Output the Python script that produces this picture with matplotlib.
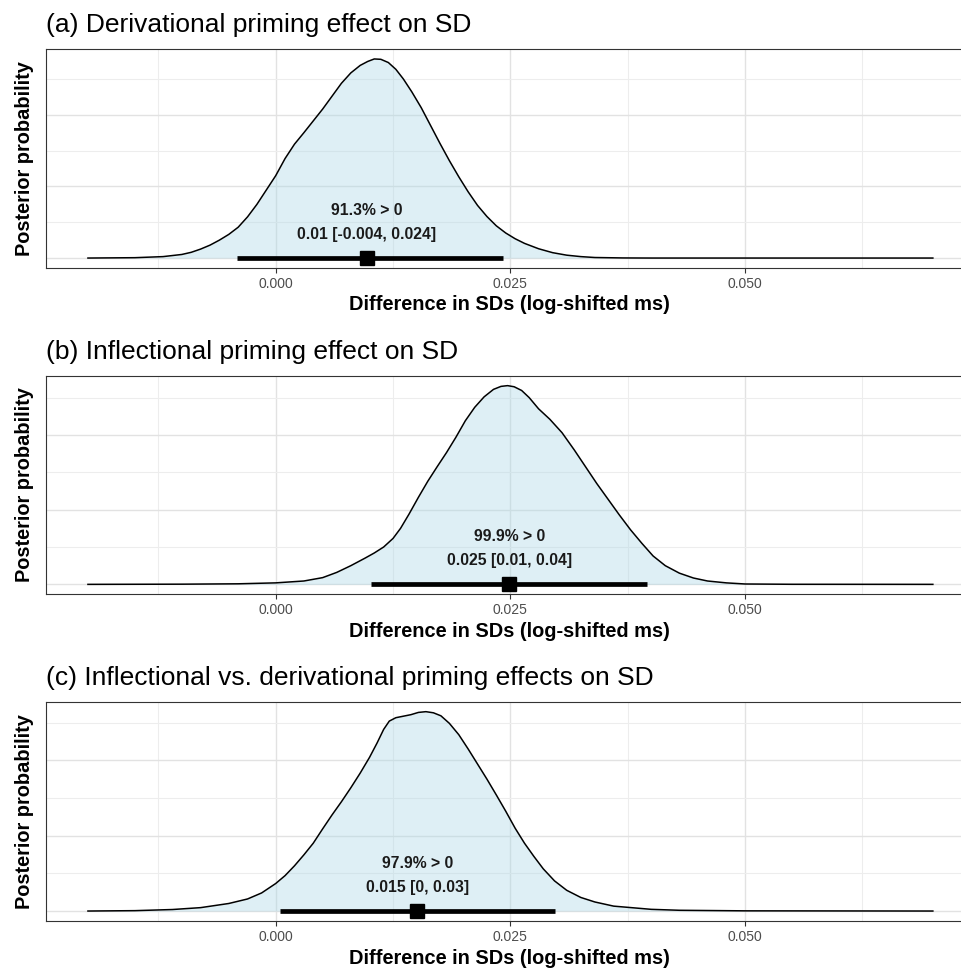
import matplotlib
matplotlib.use('Agg')
import matplotlib.pyplot as plt
from matplotlib.ticker import FixedLocator, NullFormatter

plt.rcParams['font.family'] = ['Liberation Sans', 'DejaVu Sans']

titles = ['(a) Derivational priming effect on SD',
          '(b) Inflectional priming effect on SD',
          '(c) Inflectional vs. derivational priming effects on SD']

# posterior density curves
x_a = [-0.0200, -0.0150, -0.0120, -0.0100, -0.0090, -0.0080, -0.0070, -0.0060,
       -0.0050, -0.0040, -0.0030, -0.0020, -0.0010, 0.0000, 0.0010, 0.0020,
       0.0030, 0.0040, 0.0050, 0.0060, 0.0070, 0.0080, 0.0090, 0.0098, 0.0105,
       0.0112, 0.0120, 0.0128, 0.0136, 0.0145, 0.0155, 0.0165, 0.0175, 0.0185,
       0.0195, 0.0205, 0.0215, 0.0225, 0.0235, 0.0245, 0.0255, 0.0265, 0.0280,
       0.0295, 0.0310, 0.0325, 0.0340, 0.0370, 0.0400, 0.0700]
dens_a = [0.0, 0.1, 0.4, 1.0, 1.6, 2.5, 3.6, 5.0,
          6.6, 8.6, 11.5, 15.0, 19.0, 23.0, 27.8, 31.8,
          35.0, 38.3, 41.6, 45.2, 48.8, 51.7, 53.8, 54.9, 55.6,
          55.5, 54.6, 52.7, 50.0, 46.4, 42.0, 37.0, 32.0, 27.2,
          22.7, 18.5, 14.7, 11.6, 9.0, 7.0, 5.4, 4.1, 2.6,
          1.5, 0.8, 0.4, 0.15, 0.03, 0.0, 0.0]

x_b = [-0.0200, -0.0100, -0.0040, 0.0000, 0.0030, 0.0050, 0.0065, 0.0080,
       0.0095, 0.0105, 0.0115, 0.0125, 0.0133, 0.0142, 0.0152, 0.0162, 0.0172,
       0.0182, 0.0192, 0.0202, 0.0212, 0.0222, 0.0232, 0.0240, 0.0247, 0.0254,
       0.0262, 0.0270, 0.0280, 0.0292, 0.0305, 0.0318, 0.0330, 0.0342, 0.0354,
       0.0366, 0.0378, 0.0390, 0.0402, 0.0415, 0.0430, 0.0445, 0.0460, 0.0480,
       0.0500, 0.0550, 0.0700]
dens_b = [0.0, 0.05, 0.15, 0.4, 0.9, 1.8, 3.2, 5.0,
          7.0, 8.4, 10.0, 12.3, 15.0, 18.8, 23.3, 27.6, 31.5,
          35.3, 39.4, 43.8, 47.4, 50.2, 52.2, 53.0, 53.2, 52.9,
          51.9, 50.0, 47.0, 44.2, 40.6, 36.0, 31.5, 27.0, 22.8,
          18.6, 14.6, 11.0, 7.6, 5.0, 3.0, 1.7, 0.9, 0.4,
          0.1, 0.02, 0.0]

x_c = [-0.0200, -0.0150, -0.0110, -0.0080, -0.0050, -0.0030, -0.0015, 0.0000,
       0.0010, 0.0020, 0.0030, 0.0040, 0.0050, 0.0060, 0.0070, 0.0080, 0.0090,
       0.0100, 0.0108, 0.0115, 0.0121, 0.0128, 0.0136, 0.0144, 0.0152, 0.0160,
       0.0168, 0.0176, 0.0185, 0.0195, 0.0205, 0.0215, 0.0225, 0.0235, 0.0245,
       0.0255, 0.0265, 0.0275, 0.0285, 0.0297, 0.0310, 0.0325, 0.0340, 0.0360,
       0.0400, 0.0430, 0.0500, 0.0700]
dens_c = [0.0, 0.1, 0.4, 0.9, 2.0, 3.2, 4.8, 7.3,
          9.4, 12.0, 14.9, 18.0, 21.8, 25.5, 29.0, 32.7, 36.6,
          40.8, 44.6, 48.2, 50.4, 51.3, 51.7, 52.1, 52.7, 52.9,
          52.6, 51.8, 49.8, 46.8, 43.0, 39.0, 35.0, 30.8, 26.5,
          22.0, 18.0, 14.5, 11.2, 8.0, 5.5, 3.6, 2.4, 1.3,
          0.45, 0.2, 0.05, 0.0]

medians = [0.0097, 0.0249, 0.0151]
lower = [-0.0041, 0.0101, 0.0005]
upper = [0.0242, 0.0396, 0.0298]
prob_labels = ['91.3% > 0', '99.9% > 0', '97.9% > 0']
ci_labels = ['0.01 [-0.004, 0.024]', '0.025 [0.01, 0.04]', '0.015 [0, 0.03]']

x_major = [0.0, 0.025, 0.05]
x_minor = [-0.0125, 0.0125, 0.0375, 0.0625]
x_tick_labels = ['0.000', '0.025', '0.050']
y_major = [0, 20, 40]
y_minor = [10, 30, 50]

W, H = 962, 971
fig = plt.figure(figsize=(W / 100, H / 100), dpi=100)

left_px, width_px = 45.7, 929.4
panels_px = [(49, 268), (375.7, 594.3), (701.7, 921)]
curves = [(x_a, dens_a), (x_b, dens_b), (x_c, dens_c)]

for i, ((top, bot), (xs, ds)) in enumerate(zip(panels_px, curves)):
    ax = fig.add_axes([left_px / W, 1 - bot / H, width_px / W, (bot - top) / H])
    peak = max(ds)
    ax.set_xlim(-0.0245, 0.0745)
    ax.set_ylim(-0.05 * peak, 1.05 * peak)

    ax.xaxis.set_major_locator(FixedLocator(x_major))
    ax.xaxis.set_minor_locator(FixedLocator(x_minor))
    ax.set_xticklabels(x_tick_labels)
    ax.yaxis.set_major_locator(FixedLocator(y_major))
    ax.yaxis.set_minor_locator(FixedLocator(y_minor))
    ax.yaxis.set_major_formatter(NullFormatter())
    ax.grid(which='major', color='#E2E2E2', lw=1.0, zorder=0)
    ax.grid(which='minor', color='#EDEDED', lw=0.8, zorder=0)
    ax.set_axisbelow(True)
    ax.tick_params(axis='x', which='major', length=3.5, width=0.8, color='#333333',
                   labelsize=10, labelcolor='#4D4D4D', pad=3)
    ax.tick_params(axis='x', which='minor', length=0)
    ax.tick_params(axis='y', which='both', length=0)
    for sp in ax.spines.values():
        sp.set_color('#333333')
        sp.set_linewidth(0.8)

    ax.fill_between(xs, 0, ds, color='#ADD8E6', alpha=0.4, lw=0, zorder=1)
    ax.plot(xs, ds, color='black', lw=1.1, zorder=2, solid_joinstyle='round')
    ax.plot([lower[i], upper[i]], [0, 0], color='black', lw=3.4,
            solid_capstyle='butt', zorder=3)
    ax.plot([medians[i]], [0], marker='s', ms=10, color='black', zorder=4)

    ax.annotate(prob_labels[i], xy=(medians[i], 0), xytext=(0, 34.5),
                textcoords='offset points', ha='center', va='center',
                fontsize=11.3, fontweight='bold', color='#1A1A1A')
    ax.annotate(ci_labels[i], xy=(medians[i], 0), xytext=(0, 17),
                textcoords='offset points', ha='center', va='center',
                fontsize=11.3, fontweight='bold', color='#1A1A1A')

    ax.annotate(titles[i], xy=(0, 1), xycoords='axes fraction', xytext=(0, 12.2),
                textcoords='offset points', ha='left', va='baseline', fontsize=19)

    ax.set_xlabel('Difference in SDs (log-shifted ms)', fontsize=14.4,
                  fontweight='bold', color='black')
    ax.xaxis.set_label_coords((509 - left_px) / width_px, -37 / (bot - top))
    ax.xaxis.label.set_va('center')
    ax.set_ylabel('Posterior probability', fontsize=14.4, fontweight='bold')
    ax.yaxis.set_label_coords(-20.7 / width_px, 0.5)
    ax.yaxis.label.set_va('center')

fig.savefig('out.png', dpi=100)
